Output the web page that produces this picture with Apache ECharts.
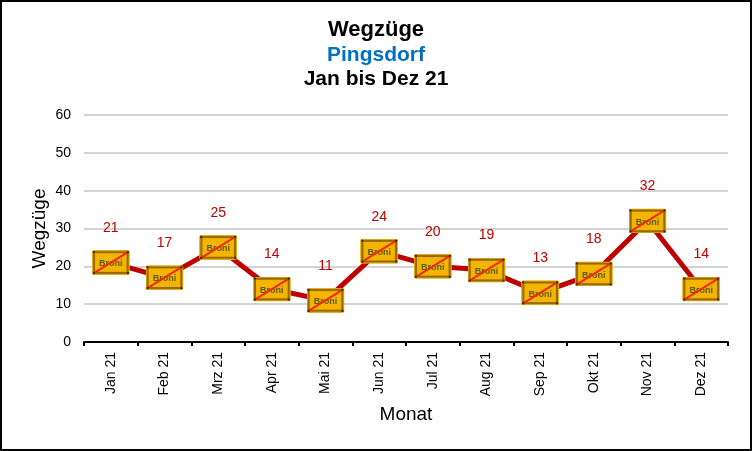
<!DOCTYPE html>
<html><head><meta charset="utf-8">
<style>html,body{margin:0;padding:0;background:#fff}#c{width:752px;height:451px}</style>
<script src="https://cdn.jsdelivr.net/npm/echarts@6/dist/echarts.min.js"></script>
</head><body><div id="c"></div>
<script>
const months = ['Jan 21','Feb 21','Mrz 21','Apr 21','Mai 21','Jun 21','Jul 21','Aug 21','Sep 21','Okt 21','Nov 21','Dez 21'];
const wegzuege = [21,17,25,14,11,24,20,19,13,18,32,14];
const yTicks = [0,10,20,30,40,50,60];

const svg = `<svg xmlns="http://www.w3.org/2000/svg" width="114" height="75" viewBox="0 0 38 25">
<rect x="0.5" y="0.5" width="37" height="24" rx="1.5" fill="#f7b500" stroke="#e8a800" stroke-width="1"/>
<rect x="2.2" y="2.2" width="33.6" height="20.6" fill="#f5b400" stroke="#94690a" stroke-width="2"/>
<text x="19" y="16.2" text-anchor="middle" font-family="Liberation Sans" font-size="9" font-weight="bold" fill="#5d5f10">Broni</text>
<line x1="2" y1="23" x2="36" y2="2" stroke="#f02a10" stroke-width="2"/>
<rect x="1" y="1" width="2" height="2" fill="#3a2a00"/><rect x="35" y="1" width="2" height="2" fill="#3a2a00"/>
<rect x="1" y="22" width="2" height="2" fill="#3a2a00"/><rect x="35" y="22" width="2" height="2" fill="#3a2a00"/>
</svg>`;
const markerUri = 'image://data:image/svg+xml;charset=utf-8,' + encodeURIComponent(svg);

const font = 'Liberation Sans';
const chart = echarts.init(document.getElementById('c'), null, {renderer:'canvas'});
chart.setOption({
  animation:false,
  backgroundColor:'#fff',
  textStyle:{fontFamily:font},
  graphic:[{type:'rect',silent:true,z:-1,shape:{x:1,y:1,width:750,height:449},style:{fill:'#fff',stroke:'#000',lineWidth:2}}],
  title:[
    {text:'Wegzüge',left:371,top:14,textAlign:'center',textStyle:{fontFamily:font,fontSize:22,fontWeight:'bold',color:'#000'}},
    {text:'Pingsdorf',left:371,top:40,textAlign:'center',textStyle:{fontFamily:font,fontSize:21,fontWeight:'bold',color:'#0070c0'}},
    {text:'Jan bis Dez 21',left:371,top:64,textAlign:'center',textStyle:{fontFamily:font,fontSize:21,fontWeight:'bold',color:'#000'}}
  ],
  grid:{left:84,right:24,top:115,height:227,containLabel:false},
  xAxis:{type:'category',data:months,boundaryGap:true,name:'Monat',nameLocation:'middle',nameGap:63,
    nameTextStyle:{fontFamily:font,fontSize:19,color:'#000'},
    axisLine:{lineStyle:{color:'#000',width:2}},
    axisTick:{show:true,alignWithLabel:false,length:4,lineStyle:{color:'#000',width:2}},
    axisLabel:{rotate:90,interval:0,margin:10,fontFamily:font,fontSize:14,color:'#000'},
    splitLine:{show:false}},
  yAxis:{type:'value',min:0,max:60,interval:10,name:'Wegzüge',nameLocation:'middle',nameGap:35,nameMoveOverlap:false,
    nameTextStyle:{fontFamily:font,fontSize:19,color:'#000'},
    axisLine:{show:false},axisTick:{show:false},
    axisLabel:{margin:13,fontFamily:font,fontSize:14,color:'#000',formatter:v=>yTicks.includes(v)?String(v):''},
    splitLine:{lineStyle:{color:'#d4d4d4',width:2}}},
  series:[{type:'line',data:wegzuege,
    lineStyle:{color:'#c00000',width:5},itemStyle:{color:'#c00000'},
    symbol:markerUri,symbolSize:[38,25],showAllSymbol:true,
    label:{show:true,position:'top',distance:15,fontFamily:font,fontSize:14,color:'#c00000'}}]
});
</script></body></html>
